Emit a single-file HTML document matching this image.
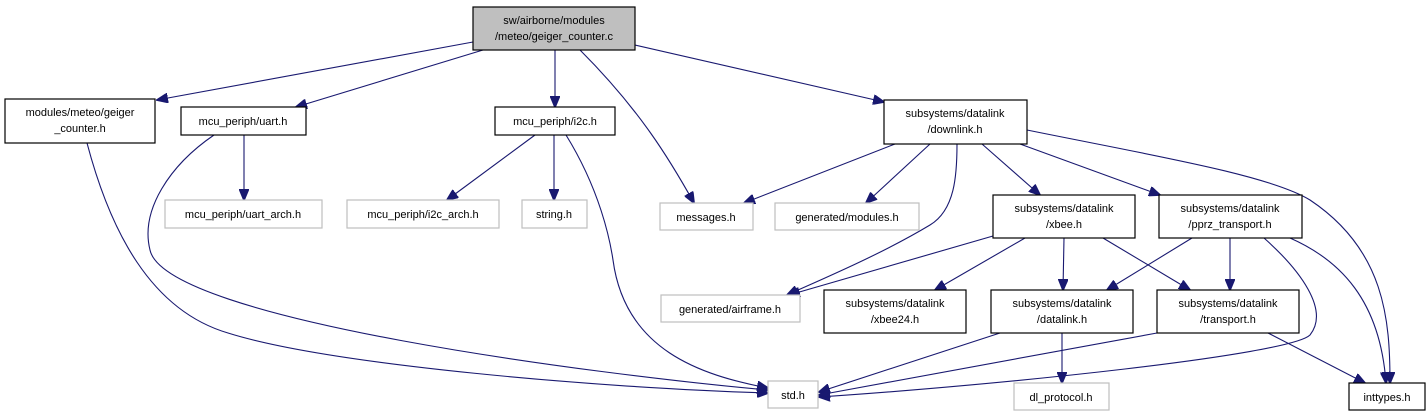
<!DOCTYPE html>
<html><head><meta charset="utf-8"><style>
html,body{margin:0;padding:0;background:#fff;}
svg{display:block;}
text{font-family:"Liberation Sans",sans-serif;font-size:11px;fill:#000;text-anchor:middle;}
.b{fill:#fff;stroke:#000;stroke-width:1.2;}
.g{fill:#fff;stroke:#bfbfbf;stroke-width:1.2;}
.e{fill:none;stroke:#191970;stroke-width:1.1;marker-end:url(#a);}
</style></head><body>
<svg width="1428" height="413" viewBox="0 0 1428 413">
<defs><marker id="a" markerWidth="12" markerHeight="10" refX="11" refY="5" orient="auto" markerUnits="userSpaceOnUse"><path d="M0,0 L12,5 L0,10 z" fill="#191970" stroke="#191970"/></marker></defs>
<path class="e" d="M473,42 L157,100"/>
<path class="e" d="M483,50 L296,107"/>
<path class="e" d="M555,50 L555,107"/>
<path class="e" d="M580,50 C640,110 670,160 694,203"/>
<path class="e" d="M635,45 L884,102"/>
<path class="e" d="M87,143 C110,230 150,310 228,333 C330,365 600,388 768,393"/>
<path class="e" d="M214,135 C170,165 140,210 150,250 C165,320 600,375 768,390"/>
<path class="e" d="M244,135 L244,200"/>
<path class="e" d="M535,135 L447,200"/>
<path class="e" d="M554,135 L554,200"/>
<path class="e" d="M566,135 C600,190 610,240 613,260 C625,350 700,375 768,388"/>
<path class="e" d="M895,144 L744,203"/>
<path class="e" d="M930,144 L866,203"/>
<path class="e" d="M957,144 C957,175 955,210 930,225 C880,255 820,280 787,295"/>
<path class="e" d="M982,144 L1040,195"/>
<path class="e" d="M1020,144 L1160,195"/>
<path class="e" d="M1027,130 C1150,155 1270,175 1310,200 C1385,250 1390,320 1390,383"/>
<path class="e" d="M993,236 L789,295"/>
<path class="e" d="M1025,238 L935,290"/>
<path class="e" d="M1064,238 L1063,290"/>
<path class="e" d="M1103,238 L1190,290"/>
<path class="e" d="M1192,238 L1107,290"/>
<path class="e" d="M1230,238 L1230,290"/>
<path class="e" d="M1264,238 C1300,270 1330,310 1310,335 C1290,355 1000,385 819,397"/>
<path class="e" d="M1290,238 C1340,260 1380,300 1386,383"/>
<path class="e" d="M1000,333 L819,392"/>
<path class="e" d="M1062,333 L1062,383"/>
<path class="e" d="M1157,333 L819,395"/>
<path class="e" d="M1268,333 L1365,383"/>
<rect x="473" y="7" width="162" height="43" fill="#bfbfbf" stroke="#000" stroke-width="1.2"/>
<text x="554" y="24">sw/airborne/modules</text><text x="554" y="40">/meteo/geiger_counter.c</text>
<rect class="b" x="5" y="99" width="150" height="44"/>
<text x="80" y="116">modules/meteo/geiger</text><text x="80" y="132">_counter.h</text>
<rect class="b" x="181" y="107" width="125" height="28"/><text x="243" y="125">mcu_periph/uart.h</text>
<rect class="b" x="495" y="107" width="120" height="28"/><text x="555" y="125">mcu_periph/i2c.h</text>
<rect class="g" x="165" y="200" width="157" height="28"/><text x="243" y="218">mcu_periph/uart_arch.h</text>
<rect class="g" x="347" y="200" width="152" height="28"/><text x="423" y="218">mcu_periph/i2c_arch.h</text>
<rect class="g" x="522" y="200" width="65" height="28"/><text x="554" y="218">string.h</text>
<rect class="g" x="660" y="203" width="93" height="27"/><text x="706" y="221">messages.h</text>
<rect class="g" x="775" y="203" width="144" height="27"/><text x="847" y="221">generated/modules.h</text>
<rect class="b" x="884" y="100" width="143" height="44"/>
<text x="955" y="117">subsystems/datalink</text><text x="955" y="133">/downlink.h</text>
<rect class="b" x="993" y="195" width="142" height="43"/>
<text x="1064" y="212">subsystems/datalink</text><text x="1064" y="228">/xbee.h</text>
<rect class="b" x="1159" y="195" width="143" height="43"/>
<text x="1230" y="212">subsystems/datalink</text><text x="1230" y="228">/pprz_transport.h</text>
<rect class="g" x="661" y="295" width="139" height="27"/><text x="730" y="313">generated/airframe.h</text>
<rect class="b" x="824" y="290" width="142" height="43"/>
<text x="895" y="307">subsystems/datalink</text><text x="895" y="323">/xbee24.h</text>
<rect class="b" x="991" y="290" width="142" height="43"/>
<text x="1062" y="307">subsystems/datalink</text><text x="1062" y="323">/datalink.h</text>
<rect class="b" x="1157" y="290" width="142" height="43"/>
<text x="1228" y="307">subsystems/datalink</text><text x="1228" y="323">/transport.h</text>
<rect class="g" x="768" y="381" width="50" height="27"/><text x="793" y="399">std.h</text>
<rect class="g" x="1014" y="383" width="95" height="27"/><text x="1061" y="401">dl_protocol.h</text>
<rect class="b" x="1349" y="383" width="76" height="27"/><text x="1387" y="401">inttypes.h</text>
</svg>
</body></html>
